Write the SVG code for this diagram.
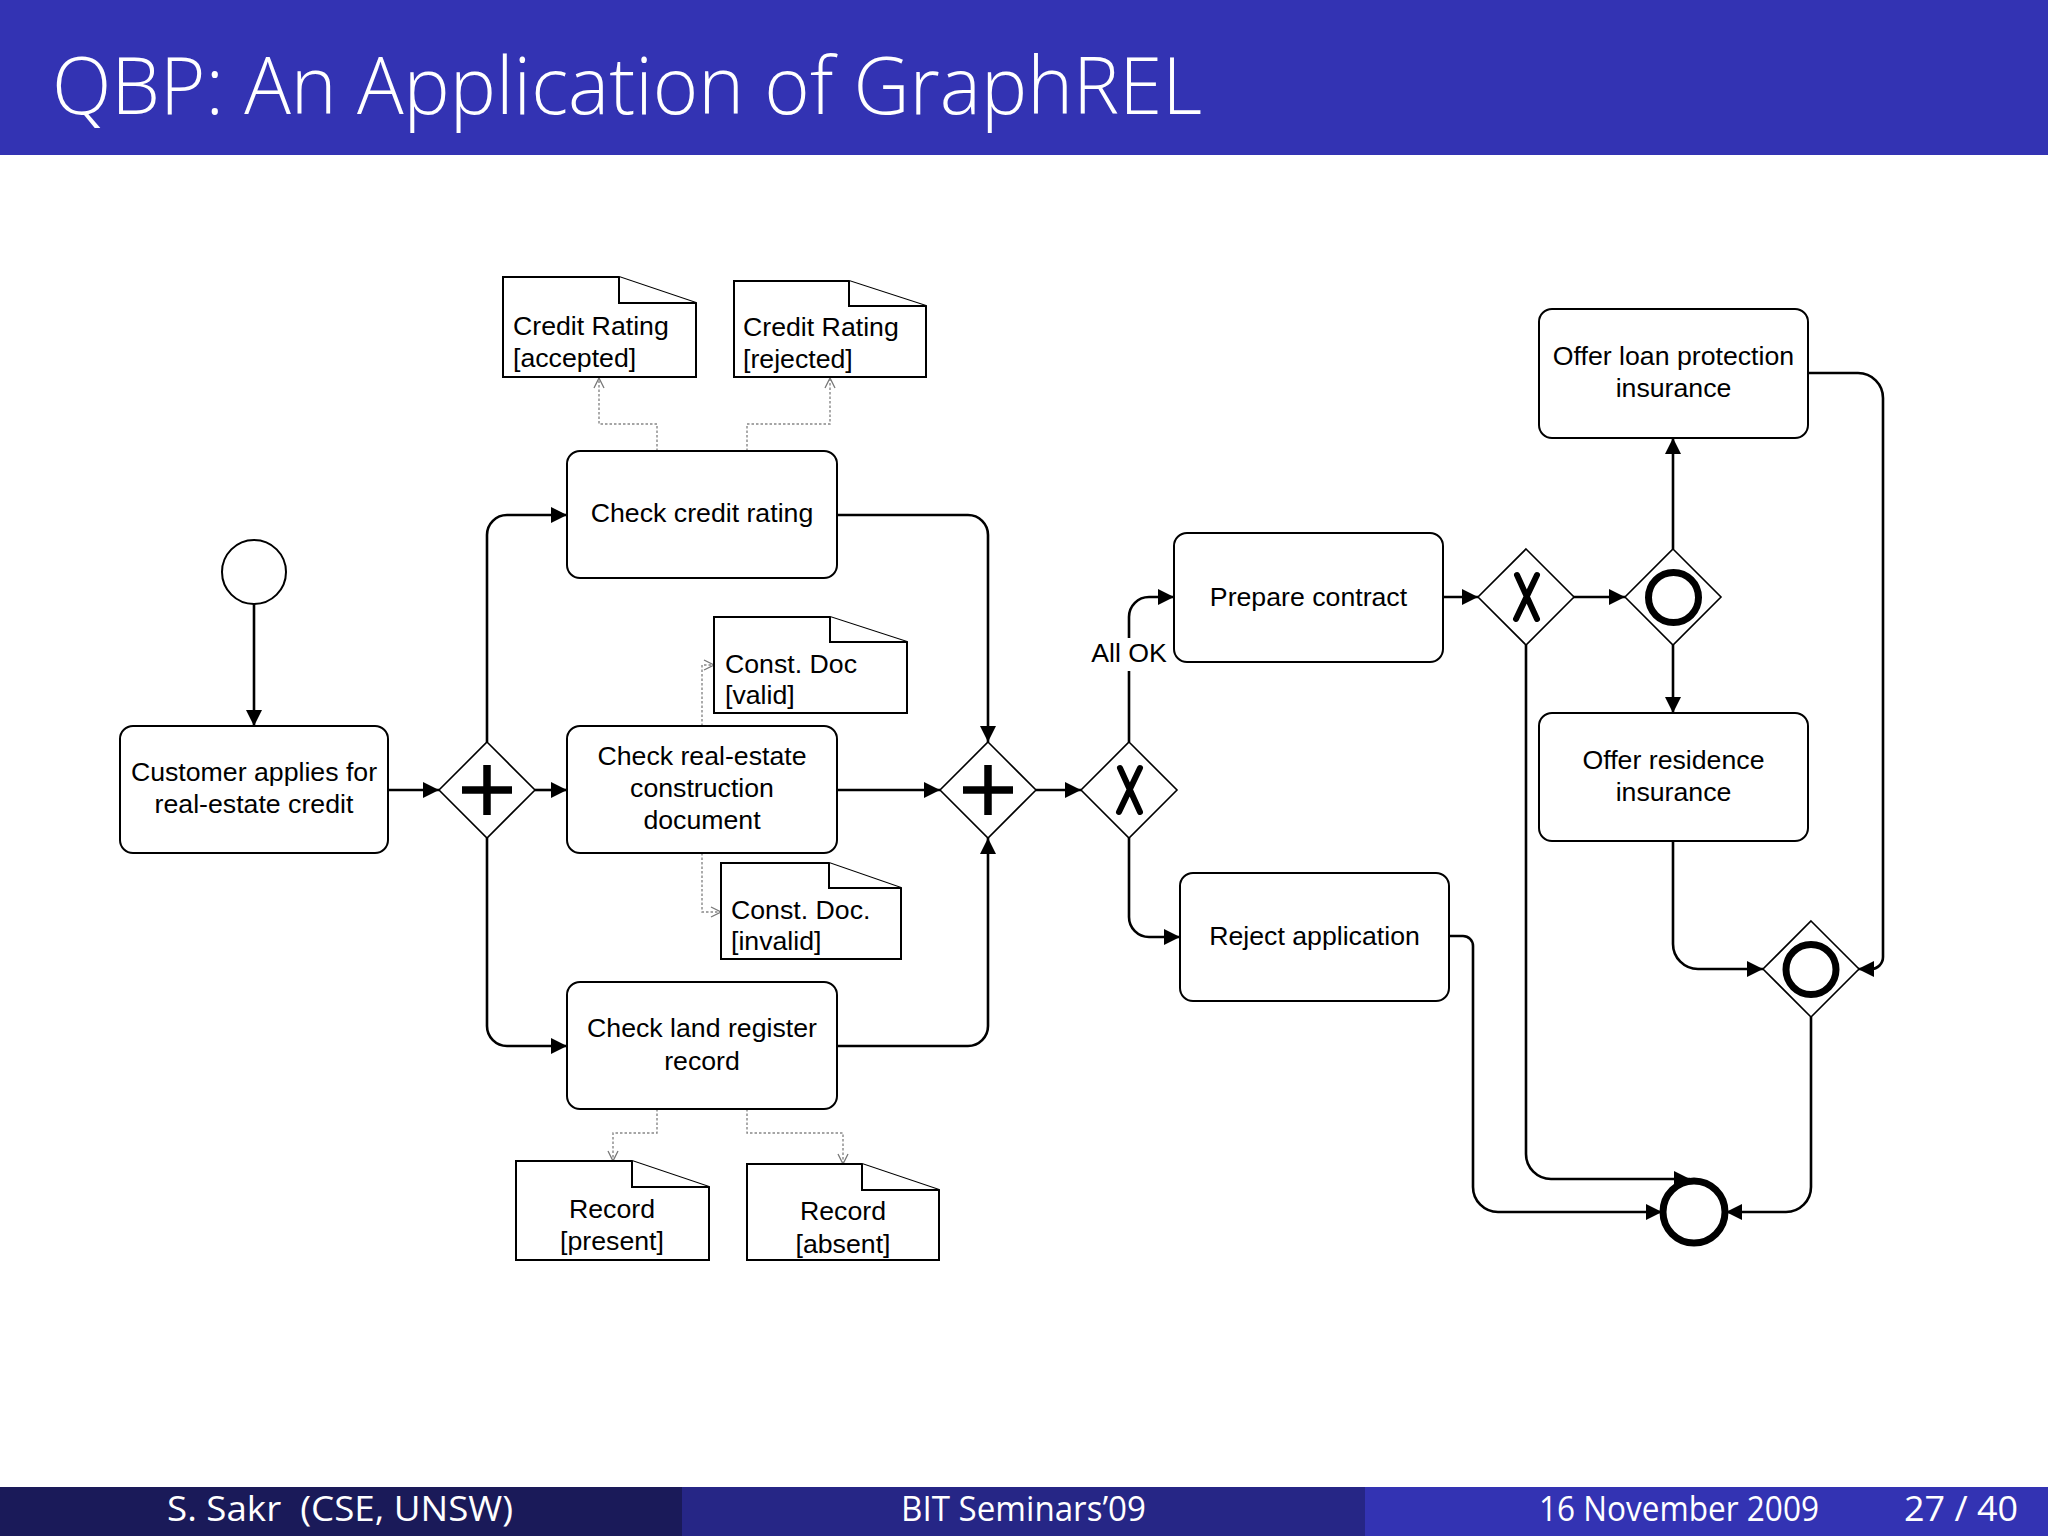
<svg xmlns="http://www.w3.org/2000/svg" width="2048" height="1536" viewBox="0 0 2048 1536">
<defs>
<marker id="arr" markerUnits="userSpaceOnUse" markerWidth="16" markerHeight="16" refX="16" refY="8" orient="auto">
<path d="M0,0 L16,8 L0,16 z" fill="#000"/>
</marker>
<marker id="oarr" markerUnits="userSpaceOnUse" markerWidth="12" markerHeight="12" refX="11" refY="6" orient="auto">
<path d="M1,1 L11,6 L1,11" fill="none" stroke="#777" stroke-width="1.3"/>
</marker>
</defs>
<style>
.task{fill:#fff;stroke:#000;stroke-width:2}
.doc{fill:#fff;stroke:#000;stroke-width:2}
.gw{fill:#fff;stroke:#000;stroke-width:1.6}
.flow{fill:none;stroke:#000;stroke-width:2.6;marker-end:url(#arr)}
.assoc{fill:none;stroke:#888;stroke-width:1.4;stroke-dasharray:2.5 2;marker-end:url(#oarr)}
.t{font-family:"Liberation Sans",Arial,sans-serif;font-size:26.7px;fill:#000}
.c{text-anchor:middle}
.ft{font-family:"Open Sans","Liberation Sans",sans-serif;font-weight:400;font-size:34px;fill:#fff}
</style>
<rect x="0" y="0" width="2048" height="1536" fill="#fff"/>
<g id="header">
<rect x="0" y="0" width="2048" height="155" fill="#3333b3"/>
<text x="52" y="114" font-family="Open Sans, Liberation Sans, sans-serif" font-weight="300" font-size="80" fill="#fff" textLength="1150" lengthAdjust="spacingAndGlyphs">QBP: An Application of GraphREL</text>
</g>
<g id="footer">
<rect x="0" y="1487" width="682" height="49" fill="#1a1a59"/>
<rect x="682" y="1487" width="683" height="49" fill="#262686"/>
<rect x="1365" y="1487" width="683" height="49" fill="#3333b3"/>
<text class="ft" x="167" y="1521" textLength="346" lengthAdjust="spacingAndGlyphs" xml:space="preserve">S. Sakr  (CSE, UNSW)</text>
<text class="ft" x="901" y="1521" textLength="245" lengthAdjust="spacingAndGlyphs">BIT Seminars’09</text>
<text class="ft" x="1539" y="1521" textLength="280" lengthAdjust="spacingAndGlyphs">16 November 2009</text>
<text class="ft" x="1904" y="1521" textLength="114" lengthAdjust="spacingAndGlyphs">27 / 40</text>
</g>
<g id="connectors">
<path class="flow" d="M254,604 L254,726"/>
<path class="flow" d="M388,790 L439,790"/>
<path class="flow" d="M535,790 L567,790"/>
<path class="flow" d="M487,742 L487,535 A20,20 0 0 1 507,515 L567,515"/>
<path class="flow" d="M487,838 L487,1026 A20,20 0 0 0 507,1046 L567,1046"/>
<path class="flow" d="M837,515 L968,515 A20,20 0 0 1 988,535 L988,742"/>
<path class="flow" d="M837,790 L940,790"/>
<path class="flow" d="M837,1046 L968,1046 A20,20 0 0 0 988,1026 L988,838"/>
<path class="flow" d="M1036,790 L1081,790"/>
<path class="flow" d="M1129,742 L1129,617 A20,20 0 0 1 1149,597 L1174,597"/>
<path class="flow" d="M1129,838 L1129,917 A20,20 0 0 0 1149,937 L1180,937"/>
<path class="flow" d="M1443,597 L1478,597"/>
<path class="flow" d="M1573,597 L1625,597"/>
<path class="flow" d="M1673,549 L1673,438"/>
<path class="flow" d="M1673,645 L1673,713"/>
<path class="flow" d="M1808,373 L1858,373 A25,25 0 0 1 1883,398 L1883,957 A12,12 0 0 1 1871,969 L1858,969"/>
<path class="flow" d="M1673,841 L1673,944 A25,25 0 0 0 1698,969 L1763,969"/>
<path class="flow" d="M1811,1017 L1811,1187 A25,25 0 0 1 1786,1212 L1726,1212"/>
<path class="flow" d="M1526,645 L1526,1154 A25,25 0 0 0 1551,1179 L1690,1179"/>
<path class="flow" d="M1449,936 L1463,936 A10,10 0 0 1 1473,946 L1473,1187 A25,25 0 0 0 1498,1212 L1662,1212"/>
<rect x="1092" y="638" width="76" height="33" fill="#fff"/>
<text class="t c" x="1129" y="662">All OK</text>
<path class="assoc" d="M657,451 L657,424 L599,424 L599,378"/>
<path class="assoc" d="M747,451 L747,424 L830,424 L830,378"/>
<path class="assoc" d="M702,726 L702,665 L714,665"/>
<path class="assoc" d="M702,853 L702,912 L721,912"/>
<path class="assoc" d="M657,1109 L657,1133 L613,1133 L613,1161"/>
<path class="assoc" d="M747,1109 L747,1133 L843,1133 L843,1164"/>
</g>
<g id="start">
<circle cx="254" cy="572" r="32" fill="#fff" stroke="#000" stroke-width="2"/>
</g>
<g id="customer">
<rect class="task" x="120" y="726" width="268" height="127" rx="13"/>
<text class="t c" x="254" y="781">Customer applies for</text>
<text class="t c" x="254" y="813">real-estate credit</text>
</g>
<g id="split-and">
<path class="gw" d="M487,742 L535,790 L487,838 L439,790 z"/>
<path d="M462,790 H512 M487,765 V815" stroke="#000" stroke-width="7.5"/>
</g>
<g id="check-credit">
<rect class="task" x="567" y="451" width="270" height="127" rx="13"/>
<text class="t c" x="702" y="522">Check credit rating</text>
</g>
<g id="check-realestate">
<rect class="task" x="567" y="726" width="270" height="127" rx="13"/>
<text class="t c" x="702" y="765">Check real-estate</text>
<text class="t c" x="702" y="797">construction</text>
<text class="t c" x="702" y="829">document</text>
</g>
<g id="check-land">
<rect class="task" x="567" y="982" width="270" height="127" rx="13"/>
<text class="t c" x="702" y="1037">Check land register</text>
<text class="t c" x="702" y="1070">record</text>
</g>
<g id="doc-accepted">
<path class="doc" d="M503,277 L619,277 L696,303 L696,377 L503,377 z"/>
<path class="doc" d="M619,277 L619,303 L696,303" fill="none"/>
<text class="t" x="513" y="335">Credit Rating</text>
<text class="t" x="513" y="367">[accepted]</text>
</g>
<g id="doc-rejected">
<path class="doc" d="M734,281 L849,281 L926,306 L926,377 L734,377 z"/>
<path class="doc" d="M849,281 L849,306 L926,306" fill="none"/>
<text class="t" x="743" y="336">Credit Rating</text>
<text class="t" x="743" y="368">[rejected]</text>
</g>
<g id="doc-valid">
<path class="doc" d="M714,617 L830,617 L907,642 L907,713 L714,713 z"/>
<path class="doc" d="M830,617 L830,642 L907,642" fill="none"/>
<text class="t" x="725" y="673">Const. Doc</text>
<text class="t" x="725" y="704">[valid]</text>
</g>
<g id="doc-invalid">
<path class="doc" d="M721,863 L829,863 L901,888 L901,959 L721,959 z"/>
<path class="doc" d="M829,863 L829,888 L901,888" fill="none"/>
<text class="t" x="731" y="919">Const. Doc.</text>
<text class="t" x="731" y="950">[invalid]</text>
</g>
<g id="doc-present">
<path class="doc" d="M516,1161 L632,1161 L709,1187 L709,1260 L516,1260 z"/>
<path class="doc" d="M632,1161 L632,1187 L709,1187" fill="none"/>
<text class="t c" x="612" y="1218">Record</text>
<text class="t c" x="612" y="1250">[present]</text>
</g>
<g id="doc-absent">
<path class="doc" d="M747,1164 L862,1164 L939,1190 L939,1260 L747,1260 z"/>
<path class="doc" d="M862,1164 L862,1190 L939,1190" fill="none"/>
<text class="t c" x="843" y="1220">Record</text>
<text class="t c" x="843" y="1253">[absent]</text>
</g>
<g id="join-and">
<path class="gw" d="M988,742 L1036,790 L988,838 L940,790 z"/>
<path d="M963,790 H1013 M988,765 V815" stroke="#000" stroke-width="7.5"/>
</g>
<g id="xor-ok">
<path class="gw" d="M1129,742 L1177,790 L1129,838 L1081,790 z"/>
<path d="M1120,768 L1140,812 M1140,768 L1119,812" stroke="#000" stroke-width="6" stroke-linecap="round"/>
</g>
<g id="prepare">
<rect class="task" x="1174" y="533" width="269" height="129" rx="13"/>
<text class="t c" x="1308.5" y="606">Prepare contract</text>
</g>
<g id="reject">
<rect class="task" x="1180" y="873" width="269" height="128" rx="13"/>
<text class="t c" x="1314.5" y="945">Reject application</text>
</g>
<g id="xor-2">
<path class="gw" d="M1526,549 L1574,597 L1526,645 L1478,597 z"/>
<path d="M1517,575 L1537,619 M1537,575 L1516,619" stroke="#000" stroke-width="6" stroke-linecap="round"/>
</g>
<g id="or-split">
<path class="gw" d="M1673,549 L1721,597 L1673,645 L1625,597 z"/>
<circle cx="1673.5" cy="597.5" r="25" fill="none" stroke="#000" stroke-width="7"/>
</g>
<g id="offer-loan">
<rect class="task" x="1539" y="309" width="269" height="129" rx="13"/>
<text class="t c" x="1673.5" y="365">Offer loan protection</text>
<text class="t c" x="1673.5" y="397">insurance</text>
</g>
<g id="offer-residence">
<rect class="task" x="1539" y="713" width="269" height="128" rx="13"/>
<text class="t c" x="1673.5" y="769">Offer residence</text>
<text class="t c" x="1673.5" y="801">insurance</text>
</g>
<g id="or-join">
<path class="gw" d="M1811,921 L1859,969 L1811,1017 L1763,969 z"/>
<circle cx="1811" cy="969.5" r="25" fill="none" stroke="#000" stroke-width="7"/>
</g>
<g id="end">
<circle cx="1694" cy="1212" r="31" fill="#fff" stroke="#000" stroke-width="7"/>
</g>
</svg>
